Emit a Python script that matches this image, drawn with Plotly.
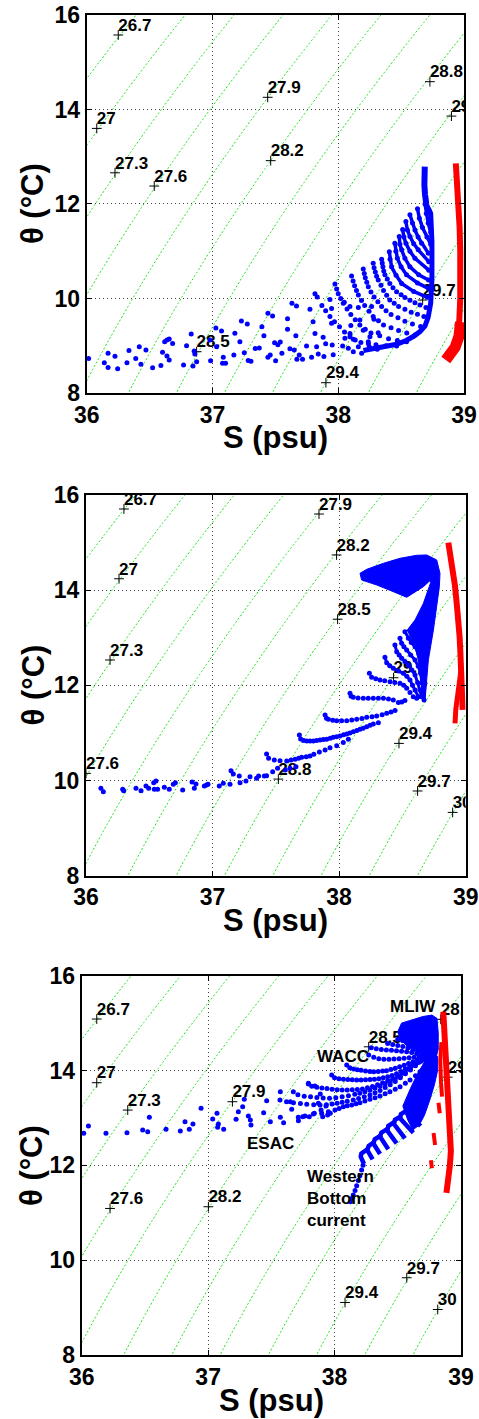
import numpy as np
import plotly.graph_objects as go

FONT = "Liberation Sans"
BLUE = "rgb(0,0,255)"
RED = "rgb(255,0,0)"
GREEN = "rgb(30,225,30)"

# ---------------- isopycnal background ----------------
SIGMA_OFFSET = 0.12
LEVEL_START, LEVEL_END, LEVEL_STEP = 25.8, 31.2, 0.3

# contour labels (value text, S, theta) per panel
P1_LAB_TXT = ["26.7", "27", "27.3", "27.6", "27.9", "28.2", "28.5", "28.8", "29.1", "29.4", "29.7"]
P1_LAB_S = [36.251, 36.08, 36.225, 36.537, 37.439, 37.463, 36.874, 38.729, 38.90, 37.902, 38.671]
P1_LAB_T = [15.577, 13.60, 12.66, 12.38, 14.258, 12.917, 8.874, 14.589, 13.86, 8.218, 9.968]

P2_LAB_TXT = ["26.7", "27", "27.3", "27.6", "27.9", "28.2", "28.5", "28.8", "29.1", "29.4", "29.7", "30"]
P2_LAB_S = [36.30, 36.261, 36.19, 36.0, 37.841, 37.98, 37.988, 37.52, 38.43, 38.473, 38.62, 38.897]
P2_LAB_T = [15.706, 14.24, 12.533, 10.15, 15.60, 14.74, 13.39, 10.03, 12.16, 10.78, 9.78, 9.33]

P3_LAB_TXT = ["26.7", "27", "27.3", "27.6", "27.9", "28.2", "28.5", "28.8", "29.1", "29.4", "29.7", "30"]
P3_LAB_S = [36.119, 36.119, 36.364, 36.224, 37.192, 37.002, 38.27, 38.84, 38.895, 38.083, 38.571, 38.816]
P3_LAB_T = [15.086, 13.743, 13.166, 11.091, 13.342, 11.127, 14.50, 15.08, 13.86, 9.108, 9.629, 8.96]

# ---------------- panel 1 data ----------------
P1_DOT_S = [36.015, 36.14, 36.17, 36.17, 36.225, 36.246, 36.32, 36.336, 36.39, 36.418, 36.431, 36.471,
            36.524, 36.59, 36.603, 36.62, 36.638, 36.656, 36.683, 36.656, 36.638, 36.77, 36.794, 36.831,
            36.845, 36.855, 36.86, 36.874, 36.98, 36.985, 37.027, 37.033, 37.072, 37.08, 37.086, 37.104,
            37.17, 37.178, 37.218, 37.23, 37.253, 37.277, 37.284, 37.306, 37.34, 37.372, 37.393, 37.409,
            37.441, 37.441, 37.459, 37.478, 37.494, 37.502, 37.52, 37.539, 37.552, 37.597, 37.597, 37.616,
            37.632, 37.65, 37.663, 37.668, 37.671, 37.69, 37.716, 37.748, 37.788, 37.775, 37.80, 37.815,
            37.828, 37.841, 37.886, 37.88, 37.90, 37.947, 37.947, 37.952, 37.96, 37.934, 38.048, 38.035,
            38.093, 38.16, 38.265, 38.10, 38.172, 38.284, 38.093, 38.199, 38.252, 38.318, 38.053, 38.12,
            38.239, 38.08, 38.12, 38.16, 38.186, 38.247, 38.31]
P1_DOT_T = [8.73, 8.64, 8.84, 8.54, 8.78, 8.515, 8.64, 8.90, 8.73, 8.98, 8.607, 8.91,
            8.536, 8.58, 8.86, 9.086, 9.12, 9.143, 9.05, 8.698, 8.783, 8.592, 9.0, 9.248,
            8.571, 8.89, 8.825, 8.663, 9.12, 8.684, 9.375, 8.98, 9.312, 8.628, 8.754, 8.628,
            8.804, 9.262, 9.086, 9.524, 8.853, 9.46, 8.69, 8.67, 8.94, 8.952, 9.404, 9.213,
            9.686, 8.755, 8.804, 9.63, 9.065, 8.684, 9.02, 9.079, 8.84, 9.573, 9.347, 8.938,
            9.897, 8.91, 9.213, 9.841, 8.712, 8.804, 8.712, 8.995, 8.755, 9.77, 9.51, 9.26,
            8.98, 8.825, 8.77, 9.18, 9.04, 9.79, 9.475, 9.016, 8.81, 9.98, 9.92, 8.995,
            9.83, 9.81, 9.83, 9.43, 9.545, 9.56, 9.26, 9.33, 9.19, 9.277, 9.157, 9.136,
            9.087, 8.946, 8.875, 8.98, 8.84, 8.98, 8.925]

# dense profile arcs of the fan (S list, theta list)
P1_ARCS_DENSE = [
    [[38.69, 38.70, 38.715, 38.735], [12.0, 11.8, 11.6, 11.4]],
    [[38.63, 38.645, 38.67, 38.705, 38.735], [11.9, 11.7, 11.5, 11.3, 11.15]],
    [[38.57, 38.59, 38.61, 38.635, 38.663, 38.716], [11.77, 11.6, 11.45, 11.3, 11.17, 10.96]],
    [[38.538, 38.55, 38.57, 38.60, 38.636, 38.72], [11.63, 11.45, 11.31, 11.16, 11.03, 10.78]],
    [[38.512, 38.522, 38.538, 38.57, 38.61, 38.72], [11.46, 11.3, 11.17, 11.0, 10.85, 10.6]],
    [[38.485, 38.49, 38.504, 38.53, 38.57, 38.64, 38.718], [11.31, 11.15, 11.03, 10.85, 10.67, 10.5, 10.39]],
    [[38.45, 38.458, 38.47, 38.50, 38.543, 38.63, 38.716], [11.17, 11.0, 10.85, 10.67, 10.50, 10.33, 10.215]],
    [[38.406, 38.412, 38.424, 38.46, 38.504, 38.6, 38.708], [10.99, 10.83, 10.67, 10.49, 10.32, 10.15, 10.025]],
]
# sparser arcs (dots only)
P1_ARCS_SPARSE = [
    [[38.345, 38.35, 38.355, 38.362, 38.371, 38.39, 38.41, 38.435, 38.464, 38.50, 38.53, 38.57, 38.61, 38.65, 38.697],
     [10.83, 10.75, 10.67, 10.58, 10.50, 10.41, 10.32, 10.23, 10.145, 10.08, 10.02, 9.965, 9.91, 9.86, 9.81]],
    [[38.278, 38.285, 38.295, 38.305, 38.318, 38.34, 38.36, 38.385, 38.41, 38.445, 38.48, 38.53, 38.58, 38.63, 38.681],
     [10.745, 10.65, 10.56, 10.47, 10.39, 10.28, 10.17, 10.07, 9.97, 9.90, 9.83, 9.77, 9.71, 9.665, 9.62]],
    [[38.199, 38.207, 38.215, 38.227, 38.239, 38.26, 38.285, 38.315, 38.345, 38.38, 38.42, 38.475, 38.53, 38.59, 38.655],
     [10.625, 10.53, 10.44, 10.345, 10.25, 10.14, 10.03, 9.93, 9.83, 9.74, 9.66, 9.59, 9.52, 9.46, 9.405]],
    [[38.106, 38.118, 38.13, 38.145, 38.16, 38.185, 38.21, 38.245, 38.278, 38.32, 38.36, 38.42, 38.48, 38.545, 38.61],
     [10.475, 10.37, 10.27, 10.17, 10.074, 9.96, 9.85, 9.73, 9.62, 9.53, 9.44, 9.38, 9.32, 9.27, 9.23]],
    [[37.974, 37.987, 38.0, 38.02, 38.04, 38.07, 38.1, 38.135, 38.172, 38.215, 38.26, 38.33, 38.4, 38.47, 38.543],
     [10.307, 10.2, 10.1, 10.0, 9.9, 9.78, 9.66, 9.55, 9.44, 9.35, 9.27, 9.21, 9.15, 9.11, 9.087]],
    [[37.815, 37.833, 37.87, 37.9, 37.934, 37.97, 38.01, 38.05, 38.093, 38.135, 38.18, 38.24, 38.3, 38.38, 38.464],
     [10.1, 10.03, 9.85, 9.74, 9.62, 9.51, 9.4, 9.29, 9.19, 9.12, 9.07, 9.04, 9.02, 9.0, 8.995]],
]
P1_ENV_S = [38.70, 38.735, 38.745, 38.745, 38.735, 38.715, 38.69, 38.65, 38.60, 38.54, 38.464, 38.38, 38.30, 38.2]
P1_ENV_T = [12.0, 11.8, 11.2, 10.4, 9.9, 9.6, 9.42, 9.3, 9.2, 9.11, 9.03, 8.98, 8.94, 8.9]
P1_STEM_S = [38.688, 38.683, 38.685, 38.69, 38.70]
P1_STEM_T = [12.79, 12.6, 12.4, 12.2, 12.0]
P1_RED_S = [38.935, 38.945, 38.955, 38.965, 38.97, 38.972, 38.97, 38.962, 38.948, 38.925, 38.895, 38.865]
P1_RED_T = [12.86, 12.5, 12.0, 11.5, 11.0, 10.5, 10.0, 9.5, 9.2, 9.0, 8.85, 8.72]
P1_RED2_S = [38.855, 38.885, 38.93, 38.96, 38.972]
P1_RED2_T = [8.7, 8.82, 8.97, 9.2, 9.5]

# ---------------- panel 2 data ----------------
P2_DOT_S = [36.118, 36.137, 36.29, 36.298, 36.395, 36.435, 36.474, 36.495, 36.535, 36.553, 36.54, 36.566,
            36.619, 36.658, 36.69, 36.706, 36.764, 36.838, 36.869, 36.856, 36.935, 36.953, 36.964, 37.053,
            37.085, 37.138, 37.146, 37.164, 37.211, 37.217, 37.264, 37.296, 37.348, 37.364, 37.409, 37.427,
            37.475, 37.514, 37.575, 37.612, 37.659]
P2_DOT_T = [9.836, 9.766, 9.815, 9.787, 9.836, 9.787, 9.885, 9.836, 9.955, 9.99, 9.815, 9.815,
            9.857, 9.815, 9.92, 9.955, 9.80, 9.969, 9.927, 9.836, 9.885, 9.906, 9.92, 9.885,
            9.941, 9.92, 10.207, 10.137, 10.095, 9.955, 9.99, 10.081, 10.046, 10.095, 10.095, 10.102,
            10.186, 10.256, 10.221, 10.256, 10.291]
P2_CURVES_SPARSE = [
    [[37.427, 37.443, 37.488, 37.533, 37.586, 37.62, 37.652, 37.68, 37.704, 37.74, 37.77, 37.80, 37.844,
      37.889, 37.928, 37.981, 38.033, 38.073],
     [10.558, 10.466, 10.431, 10.418, 10.411, 10.43, 10.446, 10.47, 10.488, 10.50, 10.516, 10.55, 10.60,
      10.64, 10.69, 10.73, 10.80, 10.866]],
    [[37.686, 37.696, 37.72, 37.744, 37.77, 37.796, 37.822, 37.849, 37.875, 37.902, 37.93, 37.954, 37.98,
      38.007, 38.035, 38.06, 38.085, 38.112, 38.14, 38.165, 38.19, 38.218, 38.245, 38.27, 38.31],
     [10.956, 10.87, 10.84, 10.831, 10.83, 10.831, 10.84, 10.852, 10.86, 10.866, 10.89, 10.908, 10.92,
      10.936, 10.96, 10.978, 11.0, 11.027, 11.05, 11.076, 11.10, 11.132, 11.16, 11.188, 11.216]],
    [[37.889, 37.9, 37.915, 37.95, 37.981, 38.02, 38.06, 38.10, 38.139, 38.18, 38.218, 38.26, 38.297,
      38.34, 38.376, 38.41, 38.442],
     [11.378, 11.31, 11.286, 11.265, 11.258, 11.255, 11.258, 11.27, 11.286, 11.305, 11.328, 11.34, 11.356,
      11.38, 11.412, 11.44, 11.469]],
    [[38.086, 38.095, 38.112, 38.15, 38.191, 38.23, 38.27, 38.31, 38.35, 38.39, 38.428, 38.468, 38.495, 38.52],
     [11.833, 11.77, 11.75, 11.735, 11.728, 11.728, 11.728, 11.728, 11.728, 11.715, 11.693, 11.637, 11.65, 11.679]],
    [[38.239, 38.257, 38.29, 38.323, 38.36, 38.402, 38.44, 38.481, 38.51, 38.534, 38.56, 38.586, 38.613],
     [12.253, 12.169, 12.14, 12.113, 12.095, 12.078, 12.06, 12.043, 12.0, 11.937, 11.85, 11.762, 11.727]],
]
P2_CURVES_DENSE = [
    [[38.362, 38.376, 38.40, 38.428, 38.47, 38.507, 38.535, 38.56, 38.58, 38.60, 38.626],
     [12.589, 12.477, 12.41, 12.358, 12.30, 12.253, 12.19, 12.113, 12.0, 11.902, 11.762]],
    [[38.441, 38.455, 38.474, 38.494, 38.52, 38.547, 38.575, 38.6, 38.62, 38.639, 38.652],
     [12.848, 12.708, 12.64, 12.568, 12.5, 12.428, 12.32, 12.218, 12.06, 11.902, 11.762]],
    [[38.481, 38.494, 38.512, 38.534, 38.565, 38.6, 38.625, 38.644, 38.655, 38.665],
     [12.988, 12.883, 12.81, 12.743, 12.64, 12.533, 12.4, 12.253, 12.05, 11.832]],
    [[38.52, 38.547, 38.57, 38.6, 38.63, 38.652, 38.667, 38.678, 38.671],
     [13.128, 12.988, 12.9, 12.813, 12.67, 12.533, 12.3, 12.043, 11.692]],
]
P2_MASS_S = [38.165, 38.218, 38.35, 38.481, 38.613, 38.692, 38.771, 38.797, 38.792, 38.771, 38.745,
             38.705, 38.685, 38.679, 38.666, 38.652, 38.626, 38.60, 38.539, 38.6, 38.666, 38.723,
             38.718, 38.666, 38.586, 38.534, 38.428, 38.297, 38.178, 38.165]
P2_MASS_T = [14.354, 14.438, 14.565, 14.67, 14.733, 14.74, 14.635, 14.354, 14.074, 13.654, 13.164,
             12.533, 11.9, 11.70, 11.693, 11.973, 12.533, 12.8, 13.164, 13.374, 13.724, 14.158,
             14.2, 14.074, 13.934, 13.85, 13.969, 14.109, 14.214, 14.354]
P2_RED_S = [38.863, 38.88, 38.902, 38.915, 38.929, 38.942, 38.952, 38.958, 38.962, 38.968, 38.974, 38.976]
P2_RED_T = [15.0, 14.7, 14.424, 14.1, 13.724, 13.4, 13.024, 12.7, 12.323, 12.0, 11.7, 11.483]
P2_RED2_S = [38.962, 38.945, 38.932, 38.922, 38.916]
P2_RED2_T = [12.3, 12.0, 11.76, 11.5, 11.2]

# ---------------- panel 3 data ----------------
P3_DOT_S = [36.016, 36.053, 36.192, 36.358, 36.482, 36.522, 36.535, 36.667, 36.78, 36.817, 36.851, 36.88,
            36.944, 37.036, 37.07, 37.081, 37.075, 37.123, 37.221, 37.239, 37.273, 37.286, 37.318, 37.334,
            37.339, 37.439, 37.463, 37.492, 37.571, 37.571, 37.597, 37.65, 37.661, 37.714, 37.748, 37.793,
            37.80, 37.845, 37.84, 37.872, 37.887, 37.893, 37.906, 37.932, 37.945, 37.966]
P3_DOT_T = [12.675, 12.83, 12.675, 12.689, 12.745, 12.71, 13.013, 12.76, 12.724, 12.921, 12.76, 12.872,
            13.202, 12.977, 13.097, 12.872, 12.802, 12.76, 12.97, 13.132, 13.237, 13.392, 13.041, 12.956,
            12.851, 13.111, 13.364, 12.921, 13.554, 13.013, 12.9, 13.343, 13.181, 12.942, 13.027, 13.716,
            13.027, 13.673, 13.097, 13.308, 13.505, 13.167, 13.027, 13.252, 13.062, 13.097]
P3_ROWS = [
    [[38.096, 38.12, 38.15, 38.18, 38.21, 38.245, 38.28, 38.31, 38.345, 38.38, 38.41, 38.445, 38.48, 38.515,
      38.55, 38.585, 38.62, 38.655, 38.69, 38.725],
     [14.117, 14.06, 14.03, 14.015, 14.005, 13.99, 13.98, 13.976, 13.98, 13.99, 13.997, 14.02, 14.05, 14.08,
      14.11, 14.15, 14.185, 14.22, 14.26, 14.30]],
    [[37.977, 38.0, 38.035, 38.07, 38.105, 38.14, 38.175, 38.21, 38.245, 38.28, 38.315, 38.35, 38.385, 38.42,
      38.455, 38.49, 38.525, 38.56, 38.595, 38.63, 38.665, 38.70, 38.735],
     [13.906, 13.85, 13.825, 13.815, 13.81, 13.805, 13.80, 13.80, 13.805, 13.81, 13.815, 13.825, 13.845, 13.87,
      13.895, 13.93, 13.98, 14.03, 14.08, 14.125, 14.17, 14.22, 14.28]],
    [[37.793, 37.82, 37.86, 37.90, 37.94, 37.98, 38.02, 38.06, 38.10, 38.14, 38.18, 38.22, 38.26, 38.30, 38.34,
      38.38, 38.42, 38.46, 38.50, 38.54, 38.58, 38.62, 38.66, 38.70, 38.735],
     [13.73, 13.67, 13.645, 13.63, 13.62, 13.605, 13.595, 13.59, 13.59, 13.595, 13.60, 13.61, 13.635, 13.665,
      13.70, 13.74, 13.785, 13.83, 13.88, 13.95, 14.03, 14.11, 14.18, 14.245, 14.29]],
    [[37.674, 37.71, 37.76, 37.81, 37.86, 37.91, 37.96, 38.01, 38.06, 38.11, 38.16, 38.2, 38.24, 38.28, 38.32,
      38.36, 38.40, 38.44, 38.48, 38.52, 38.56, 38.60, 38.64, 38.68, 38.72],
     [13.554, 13.49, 13.46, 13.445, 13.43, 13.42, 13.415, 13.425, 13.445, 13.47, 13.50, 13.52, 13.55, 13.585,
      13.63, 13.675, 13.72, 13.77, 13.82, 13.88, 13.96, 14.05, 14.13, 14.2, 14.27]],
    [[37.568, 37.62, 37.675, 37.73, 37.78, 37.835, 37.885, 37.935, 37.98, 38.02, 38.06, 38.10, 38.148, 38.19,
      38.235, 38.28, 38.32, 38.36, 38.40, 38.44, 38.48, 38.52, 38.56, 38.60, 38.64, 38.68, 38.72],
     [13.378, 13.34, 13.32, 13.305, 13.29, 13.28, 13.273, 13.28, 13.295, 13.31, 13.33, 13.35, 13.378, 13.41,
      13.445, 13.483, 13.53, 13.58, 13.64, 13.70, 13.77, 13.85, 13.93, 14.01, 14.1, 14.19, 14.27]],
    [[37.713, 37.766, 37.832, 37.898, 37.951, 38.003, 38.036, 38.069, 38.10, 38.135, 38.17, 38.201, 38.24,
      38.28, 38.32, 38.359, 38.40, 38.438, 38.48, 38.518, 38.56, 38.597, 38.64, 38.676, 38.71, 38.742],
     [13.013, 13.041, 13.083, 13.097, 13.132, 13.167, 13.20, 13.237, 13.255, 13.273, 13.30, 13.322, 13.355,
      13.392, 13.425, 13.462, 13.51, 13.554, 13.605, 13.659, 13.73, 13.80, 13.89, 13.976, 14.06, 14.152]],
    [[38.27, 38.31, 38.35, 38.39, 38.43, 38.47, 38.51, 38.55, 38.59, 38.63, 38.67, 38.71],
     [14.33, 14.28, 14.25, 14.24, 14.24, 14.245, 14.25, 14.26, 14.27, 14.28, 14.29, 14.30]],
    [[38.29, 38.33, 38.37, 38.41, 38.45, 38.49, 38.53, 38.57, 38.61, 38.65, 38.69, 38.73],
     [14.48, 14.46, 14.445, 14.435, 14.425, 14.415, 14.405, 14.395, 14.38, 14.36, 14.34, 14.31]],
    [[38.42, 38.46, 38.50, 38.54, 38.58, 38.62, 38.66, 38.70],
     [14.57, 14.55, 14.53, 14.505, 14.475, 14.44, 14.40, 14.35]],
    [[38.50, 38.54, 38.58, 38.62, 38.66, 38.70],
     [14.66, 14.63, 14.59, 14.54, 14.48, 14.42]],
]
P3_TOP_S = [38.53, 38.62, 38.70, 38.77, 38.81, 38.82, 38.82, 38.80, 38.74, 38.66, 38.58, 38.52, 38.50, 38.53]
P3_TOP_T = [15.0, 15.07, 15.14, 15.17, 15.10, 14.80, 14.45, 14.25, 14.30, 14.38, 14.50, 14.66, 14.82, 15.0]
P3_LOW_S = [38.54, 38.60, 38.66, 38.72, 38.76, 38.815, 38.815, 38.79, 38.75, 38.71, 38.67, 38.62, 38.58, 38.54]
P3_LOW_T = [13.25, 13.62, 13.95, 14.22, 14.34, 14.30, 14.0, 13.7, 13.35, 13.05, 12.85, 12.75, 12.95, 13.25]
P3_CRESCENTS = [
    [[38.259, 38.212, 38.207, 38.233], [12.338, 12.25, 12.183, 12.028]],
    [[38.32, 38.27, 38.259, 38.301], [12.499, 12.41, 12.323, 12.127]],
    [[38.373, 38.318, 38.307, 38.36], [12.64, 12.55, 12.464, 12.239]],
    [[38.425, 38.37, 38.36, 38.425], [12.78, 12.69, 12.605, 12.338]],
    [[38.478, 38.425, 38.417, 38.491], [12.921, 12.83, 12.731, 12.464]],
    [[38.531, 38.478, 38.47, 38.557], [13.041, 12.96, 12.872, 12.57]],
    [[38.576, 38.525, 38.518, 38.623], [13.167, 13.08, 12.991, 12.689]],
    [[38.618, 38.572, 38.565, 38.681], [13.294, 13.21, 13.132, 12.83]],
]
P3_TAIL_S = [38.225, 38.214, 38.2, 38.188, 38.175, 38.162, 38.148, 38.135, 38.125]
P3_TAIL_T = [12.0, 11.9, 11.78, 11.68, 11.57, 11.47, 11.374, 11.3, 11.23]
P3_RED_S = [38.86, 38.868, 38.876, 38.885, 38.895, 38.91, 38.92, 38.92, 38.912, 38.9, 38.885]
P3_RED_T = [15.24, 14.9, 14.5, 14.0, 13.5, 13.0, 12.6, 12.3, 12.0, 11.7, 11.42]
P3_RED2_S = [38.845, 38.836, 38.842, 38.85, None, 38.822, 38.832, None, 38.783, 38.795, None, 38.762, 38.77]
P3_RED2_T = [14.6, 14.2, 13.75, 13.45, None, 13.32, 13.1, None, 12.68, 12.43, None, 12.11, 11.94]

P3_NOTES = ["MLIW", "WACC", "ESAC"]
P3_NOTE_S = [38.62, 38.067, 37.496]
P3_NOTE_T = [15.36, 14.29, 12.465]
P3_NOTE2 = "Western<br>Bottom<br>current"
P3_NOTE2_S, P3_NOTE2_T = 37.766, 11.307

# ---------------- layout geometry ----------------
W, H = 479, 1419
X_DOMAINS = [[0.181, 0.9687], [0.1795, 0.9722], [0.1706, 0.9624]]
Y_DOMAINS = [[0.72305, 0.98943], [0.38288, 0.65116], [0.04510, 0.31240]]
XTITLE_Y = [0.6920, 0.3510, 0.0130]
YTITLE_X = [0.069, 0.069, 0.066]


def sigma0(S, T):
    rw = (999.842594 + 6.793952e-2 * T - 9.095290e-3 * T ** 2 + 1.001685e-4 * T ** 3
          - 1.120083e-6 * T ** 4 + 6.536332e-9 * T ** 5)
    A = 8.24493e-1 - 4.0899e-3 * T + 7.6438e-5 * T ** 2 - 8.2467e-7 * T ** 3 + 5.3875e-9 * T ** 4
    B = -5.72466e-3 + 1.0227e-4 * T - 1.6546e-6 * T ** 2
    C = 4.8314e-4
    return rw + A * S + B * S ** 1.5 + C * S ** 2 - 1000.0


S_GRID = np.linspace(35.8, 39.2, 140)
T_GRID = np.linspace(7.5, 16.5, 140)
SS, TT = np.meshgrid(S_GRID, T_GRID)
DENS = sigma0(SS, TT) - SIGMA_OFFSET

fig = go.Figure()


def dots(s, t, xa, ya, color=BLUE, size=5):
    fig.add_trace(go.Scatter(x=s, y=t, mode="markers", xaxis=xa, yaxis=ya,
                             marker=dict(color=color, size=size, line=dict(width=0)),
                             hoverinfo="skip", showlegend=False))


def band(s, t, xa, ya, color=BLUE, width=4, markers=False, msize=5):
    fig.add_trace(go.Scatter(x=s, y=t, mode="lines+markers" if markers else "lines",
                             xaxis=xa, yaxis=ya, connectgaps=False,
                             line=dict(color=color, width=width),
                             marker=dict(color=color, size=msize, line=dict(width=0)),
                             hoverinfo="skip", showlegend=False))


def mass(s, t, xa, ya, color=BLUE):
    fig.add_trace(go.Scatter(x=s, y=t, mode="lines", fill="toself", fillcolor=color,
                             xaxis=xa, yaxis=ya, line=dict(color=color, width=1),
                             hoverinfo="skip", showlegend=False))


labels = [(P1_LAB_TXT, P1_LAB_S, P1_LAB_T), (P2_LAB_TXT, P2_LAB_S, P2_LAB_T), (P3_LAB_TXT, P3_LAB_S, P3_LAB_T)]
axes = [("x", "y"), ("x2", "y2"), ("x3", "y3")]

for k, (xa, ya) in enumerate(axes):
    fig.add_trace(go.Contour(x=S_GRID, y=T_GRID, z=DENS, xaxis=xa, yaxis=ya, showscale=False,
                             contours=dict(start=LEVEL_START, end=LEVEL_END, size=LEVEL_STEP, coloring="none"),
                             line=dict(color=GREEN, width=1, dash="2px,2px"), hoverinfo="skip", showlegend=False))
    txt, ls, lt = labels[k]
    fig.add_trace(go.Scatter(x=ls, y=lt, mode="markers", xaxis=xa, yaxis=ya, cliponaxis=True,
                             marker=dict(symbol="cross-thin", size=7, line=dict(color="black", width=1), color="black"),
                             hoverinfo="skip", showlegend=False))
    fig.add_trace(go.Scatter(x=ls, y=lt, text=txt, mode="text", textposition="top right",
                             xaxis=xa, yaxis=ya, cliponaxis=True,
                             textfont=dict(family=FONT, size=17, color="black", weight="bold"),
                             hoverinfo="skip", showlegend=False))

# panel 1
dots(P1_DOT_S, P1_DOT_T, "x", "y")
for s, t in P1_ARCS_SPARSE:
    dots(s, t, "x", "y")
for s, t in P1_ARCS_DENSE:
    band(s, t, "x", "y", width=3.5, markers=True, msize=5)
band(P1_ENV_S, P1_ENV_T, "x", "y", width=5)
band(P1_STEM_S, P1_STEM_T, "x", "y", width=6)
band(P1_RED_S, P1_RED_T, "x", "y", color=RED, width=6)
band(P1_RED2_S, P1_RED2_T, "x", "y", color=RED, width=11)

# panel 2
dots(P2_DOT_S, P2_DOT_T, "x2", "y2")
for s, t in P2_CURVES_SPARSE:
    dots(s, t, "x2", "y2")
for s, t in P2_CURVES_DENSE:
    band(s, t, "x2", "y2", width=3, markers=True, msize=5)
mass(P2_MASS_S, P2_MASS_T, "x2", "y2")
band(P2_RED_S, P2_RED_T, "x2", "y2", color=RED, width=6)
band(P2_RED2_S, P2_RED2_T, "x2", "y2", color=RED, width=5)

# panel 3
dots(P3_DOT_S, P3_DOT_T, "x3", "y3")
for s, t in P3_ROWS:
    dots(s, t, "x3", "y3")
mass(P3_TOP_S, P3_TOP_T, "x3", "y3")
mass(P3_LOW_S, P3_LOW_T, "x3", "y3")
for s, t in P3_CRESCENTS:
    band(s, t, "x3", "y3", width=4.5)
dots(P3_TAIL_S, P3_TAIL_T, "x3", "y3")
band(P3_RED_S, P3_RED_T, "x3", "y3", color=RED, width=6)
band(P3_RED2_S, P3_RED2_T, "x3", "y3", color=RED, width=4)

tickfont = dict(family=FONT, size=23, color="black", weight="bold")
common = dict(showline=True, linecolor="black", linewidth=2, mirror="ticks", ticks="inside", ticklen=5,
              tickwidth=1, tickcolor="black", showgrid=True, gridcolor="rgba(0,0,0,0.75)", griddash="1px,3px",
              gridwidth=1, zeroline=False, tickfont=tickfont, fixedrange=True, automargin=False)

layout = dict(template="none", width=W, height=H, margin=dict(l=0, r=0, t=0, b=0, pad=0),
              paper_bgcolor="white", plot_bgcolor="white", showlegend=False,
              font=dict(family=FONT, color="black"))
annotations = []
for k, (xa, ya) in enumerate(axes):
    xname = "xaxis" if k == 0 else "xaxis%d" % (k + 1)
    yname = "yaxis" if k == 0 else "yaxis%d" % (k + 1)
    layout[xname] = dict(domain=X_DOMAINS[k], range=[36, 39], tick0=36, dtick=1, anchor=ya, **common)
    layout[yname] = dict(domain=Y_DOMAINS[k], range=[8, 16], tick0=8, dtick=2, anchor=xa, **common)
    xmid = 0.5 * (X_DOMAINS[k][0] + X_DOMAINS[k][1])
    annotations.append(dict(text="S (psu)", xref="paper", yref="paper", x=xmid, y=XTITLE_Y[k],
                            xanchor="center", yanchor="middle", showarrow=False,
                            font=dict(family=FONT, size=31, color="black", weight="bold")))
    ymid = 0.5 * (Y_DOMAINS[k][0] + Y_DOMAINS[k][1])
    annotations.append(dict(text="θ (°C)", xref="paper", yref="paper", x=YTITLE_X[k], y=ymid,
                            xanchor="center", yanchor="middle", showarrow=False, textangle=-90,
                            font=dict(family=FONT, size=31, color="black", weight="bold")))

for txt, s, t in zip(P3_NOTES, P3_NOTE_S, P3_NOTE_T):
    annotations.append(dict(text=txt, xref="x3", yref="y3", x=s, y=t, xanchor="center", yanchor="middle",
                            showarrow=False, font=dict(family=FONT, size=17, color="black", weight="bold")))
annotations.append(dict(text=P3_NOTE2, xref="x3", yref="y3", x=P3_NOTE2_S, y=P3_NOTE2_T, xanchor="left",
                        yanchor="middle", align="left", showarrow=False,
                        font=dict(family=FONT, size=17, color="black", weight="bold")))
layout["annotations"] = annotations
fig.update_layout(**layout)
fig.write_html("out.html", config={"displayModeBar": False, "staticPlot": True},
               post_script="document.body.style.margin='0px';document.body.style.padding='0px';")
